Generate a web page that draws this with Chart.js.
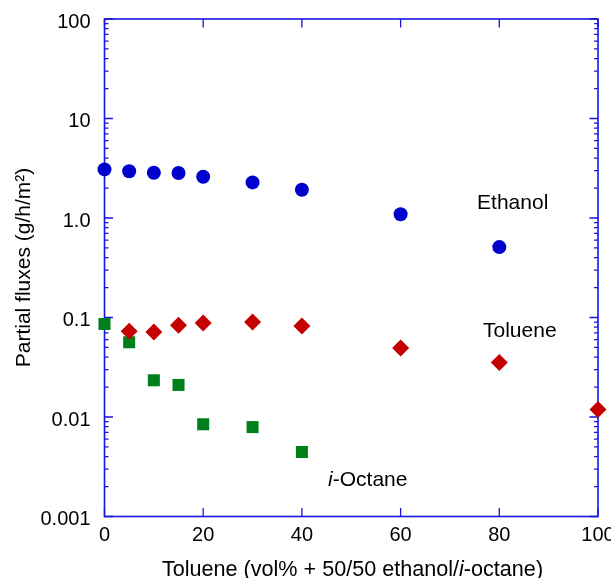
<!DOCTYPE html>
<html><head><meta charset="utf-8">
<script src="https://cdn.jsdelivr.net/npm/chart.js@4/dist/chart.umd.min.js"></script>
<style>html,body{margin:0;padding:0;background:#fff}#wrap{width:611px;height:578px}</style>
</head><body><div id="wrap"><canvas id="c" width="611" height="578"></canvas></div>
<script>
// ---- data ----
const toluenePct  = [0, 5, 10, 15, 20, 30, 40, 60, 80, 100];
const ethanolFlux = [3.08, 2.95, 2.85, 2.83, 2.60, 2.28, 1.92, 1.09, 0.51, null];
const tolueneFlux = [null, 0.0727, 0.0714, 0.0836, 0.0881, 0.0902, 0.0822, 0.0493, 0.0352, 0.0119];
const octaneFlux  = [0.086, 0.0564, 0.0234, 0.0210, 0.00845, 0.00792, 0.00445, null, null, null];
const xTickValues = [0, 20, 40, 60, 80, 100];
const xTickLabels = ['0', '20', '40', '60', '80', '100'];
const yTickValues = [0.001, 0.01, 0.1, 1, 10, 100];
const yTickLabels = ['0.001', '0.01', '0.1', '1.0', '10', '100'];
const seriesNames = ['Ethanol', 'Toluene', 'i-Octane'];

const FONT = "'Liberation Sans', Arial, Helvetica, sans-serif";
const AXIS_BLUE = '#1515e0';

function pairs(xs, ys) {
  const out = [];
  xs.forEach((x, i) => { if (ys[i] !== null) out.push({x: x, y: ys[i]}); });
  return out;
}

// annotation placements (data coordinates)
const annotations = [
  {parts: [['Ethanol', false]], x: 75.5, y: 1.23},
  {parts: [['Toluene', false]], x: 76.7, y: 0.0637},
  {parts: [['i', true], ['-Octane', false]], x: 45.3, y: 0.002025}
];

const framePlugin = {
  id: 'frame',
  beforeDatasetsDraw(chart) {
    const {ctx, chartArea: a, scales: {x, y}} = chart;
    ctx.save();
    ctx.strokeStyle = AXIS_BLUE;
    ctx.lineWidth = 1.6;
    ctx.strokeRect(a.left, a.top, a.right - a.left, a.bottom - a.top);
    ctx.lineWidth = 1.3;
    ctx.beginPath();
    xTickValues.forEach(v => {
      const px = x.getPixelForValue(v);
      ctx.moveTo(px, a.bottom); ctx.lineTo(px, a.bottom - 8.5);
      ctx.moveTo(px, a.top); ctx.lineTo(px, a.top + 8.5);
    });
    for (let k = -3; k <= 2; k++) {
      for (let m = 1; m <= 9; m++) {
        const v = m * Math.pow(10, k);
        if (v > 100.0001) continue;
        const py = y.getPixelForValue(v);
        const len = (m === 1) ? 8.5 : 4;
        ctx.moveTo(a.left, py); ctx.lineTo(a.left + len, py);
        ctx.moveTo(a.right, py); ctx.lineTo(a.right - len, py);
      }
    }
    ctx.stroke();
    ctx.restore();
  },
  afterDatasetsDraw(chart) {
    const {ctx, chartArea: a, scales: {x, y}} = chart;
    ctx.save();
    ctx.fillStyle = '#000';
    ctx.textBaseline = 'alphabetic';
    ctx.textAlign = 'left';
    annotations.forEach(an => {
      let px = x.getPixelForValue(an.x);
      const py = y.getPixelForValue(an.y);
      an.parts.forEach(([t, it]) => {
        ctx.font = (it ? 'italic ' : '') + '21px ' + FONT;
        ctx.fillText(t, px, py);
        px += ctx.measureText(t).width;
      });
    });
    // x axis title (mixed italic)
    const xparts = [['Toluene (vol% + 50/50 ethanol/', false], ['i', true], ['-octane)', false]];
    let total = 0;
    xparts.forEach(([t, it]) => { ctx.font = (it ? 'italic ' : '') + '21.6px ' + FONT; total += ctx.measureText(t).width; });
    let sx = 352.5 - total / 2;
    xparts.forEach(([t, it]) => {
      ctx.font = (it ? 'italic ' : '') + '21.6px ' + FONT;
      ctx.fillText(t, sx, 575.5);
      sx += ctx.measureText(t).width;
    });
    // y axis title
    ctx.save();
    ctx.translate(30, 267.5);
    ctx.rotate(-Math.PI / 2);
    ctx.textAlign = 'center';
    ctx.font = '21px ' + FONT;
    ctx.fillText('Partial fluxes (g/h/m\u00B2)', 0, 0);
    ctx.restore();
    ctx.restore();
  }
};

new Chart(document.getElementById('c'), {
  type: 'scatter',
  data: {
    datasets: [
      {label: seriesNames[0], data: pairs(toluenePct, ethanolFlux), pointStyle: 'circle', pointRadius: 7,
       backgroundColor: '#0000cc', borderColor: '#0000cc', borderWidth: 0, clip: false},
      {label: seriesNames[1], data: pairs(toluenePct, tolueneFlux), pointStyle: 'rectRot', pointRadius: 8.5,
       backgroundColor: '#c40000', borderColor: '#c40000', borderWidth: 0, clip: false},
      {label: seriesNames[2], data: pairs(toluenePct, octaneFlux), pointStyle: 'rect', pointRadius: 8.5,
       backgroundColor: '#00801a', borderColor: '#00801a', borderWidth: 0, clip: false}
    ]
  },
  options: {
    responsive: false,
    animation: false,
    devicePixelRatio: 1,
    layout: {padding: {top: 19, right: 13, left: 0, bottom: 0}},
    plugins: {legend: {display: false}, tooltip: {enabled: false}},
    scales: {
      x: {
        type: 'linear', min: 0, max: 100,
        afterBuildTicks(s) { s.ticks = xTickValues.map(v => ({value: v})); },
        afterFit(s) { s.height = 61.5; s.paddingLeft = 0; s.paddingRight = 0; },
        ticks: {autoSkip: false, maxRotation: 0, padding: 7, color: '#000',
                font: {family: FONT, size: 20},
                callback: (v, i) => xTickLabels[i]},
        grid: {display: false, drawTicks: false},
        border: {display: false}
      },
      y: {
        type: 'logarithmic', min: 0.001, max: 100,
        afterBuildTicks(s) { s.ticks = yTickValues.map(v => ({value: v})); },
        afterFit(s) { s.width = 104.5; s.paddingTop = 0; s.paddingBottom = 0; },
        ticks: {autoSkip: false, padding: 14, color: '#000', labelOffset: 3,
                font: {family: FONT, size: 20},
                callback: (v, i) => yTickLabels[i]},
        grid: {display: false, drawTicks: false},
        border: {display: false}
      }
    }
  },
  plugins: [framePlugin]
});
</script></body></html>
